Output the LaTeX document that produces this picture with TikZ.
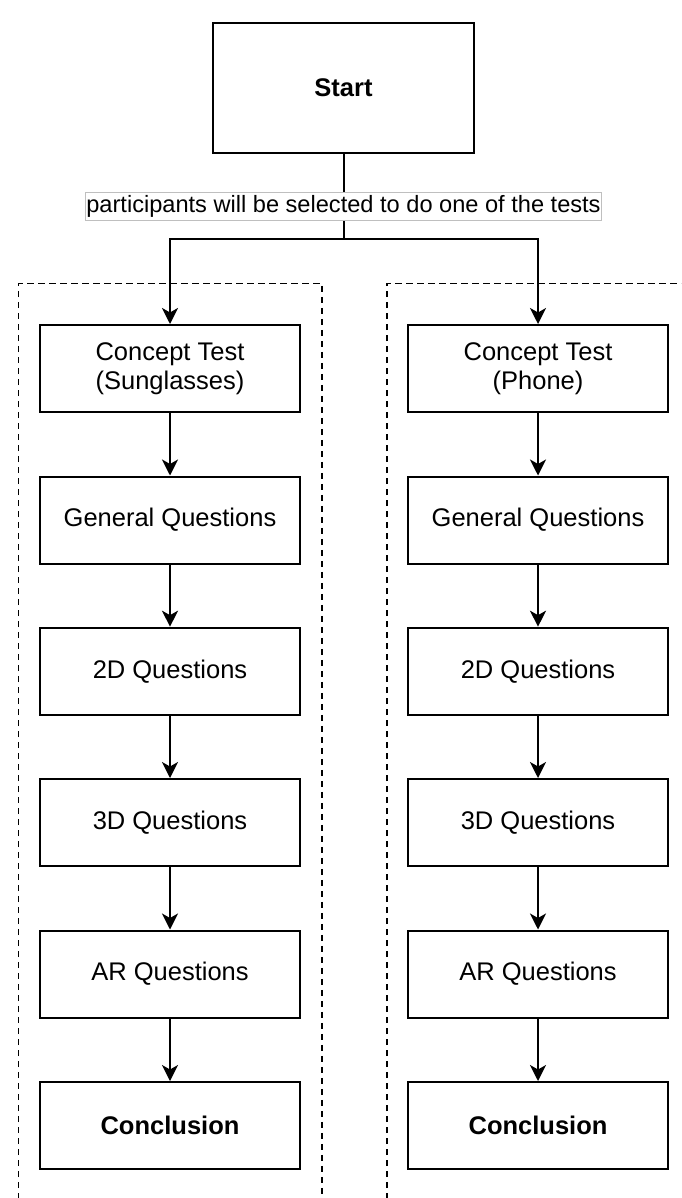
\documentclass[tikz,border=0pt]{standalone}
\usepackage{fontspec}
\setmainfont{Liberation Sans}
\usetikzlibrary{arrows.meta}
\tikzset{
  flowbox/.style={draw=black, line width=2pt, fill=white, rectangle, minimum width=260pt, minimum height=87pt, inner sep=0pt, align=center, font=\fontsize{25.5}{29}\selectfont},
  groupline/.style={draw=black, line width=1.8pt, dash pattern=on 6.5pt off 4.5pt},
  link/.style={draw=black, line width=2pt},
  arrowlink/.style={link, -{Stealth[length=16pt, width=16pt, inset=4.5pt]}},
  edgelabel/.style={draw=black!25, line width=1pt, fill=white, inner xsep=1pt, inner ysep=0pt, minimum height=28pt, font=\fontsize{23.6}{27}\selectfont}
}
\begin{document}
\begin{tikzpicture}[x=1pt,y=-1pt]
\useasboundingbox (0,0) rectangle (681,1198);
\clip (0,0) rectangle (681,1198);
\fill[white] (0,0) rectangle (681,1198);

% dashed group frames (open at the bottom edge)
\draw[groupline] (18.5,1210) -- (18.5,283.5) -- (321.7,283.5) -- (321.7,1210);
\draw[groupline] (386.7,1210) -- (386.7,283.5) -- (700,283.5);

% start
\node[flowbox, minimum width=261pt, minimum height=130pt, font=\bfseries\fontsize{25.5}{29}\selectfont] (start) at (343.5,87.7) {Start};

% edge label
\node[edgelabel] (lbl) at (343.5,206.7) {participants will be selected to do one of the tests};
\coordinate (j) at (343.5,238.7);

% left column
\node[flowbox] (L1) at (170,368.5) {Concept Test\\(Sunglasses)};
\node[flowbox] (L2) at (170,520) {General Questions};
\node[flowbox] (L3) at (170,671.2) {2D Questions};
\node[flowbox] (L4) at (170,822.5) {3D Questions};
\node[flowbox] (L5) at (170,974) {AR Questions};
\node[flowbox, font=\bfseries\fontsize{25.5}{29}\selectfont] (L6) at (170,1125.5) {Conclusion};

% right column
\node[flowbox] (R1) at (538,368.5) {Concept Test\\(Phone)};
\node[flowbox] (R2) at (538,520) {General Questions};
\node[flowbox] (R3) at (538,671.2) {2D Questions};
\node[flowbox] (R4) at (538,822.5) {3D Questions};
\node[flowbox] (R5) at (538,974) {AR Questions};
\node[flowbox, font=\bfseries\fontsize{25.5}{29}\selectfont] (R6) at (538,1125.5) {Conclusion};

% connectors
\draw[link] (start.south) -- (lbl.north);
\draw[link] (lbl.south) -- (j);
\draw[arrowlink] (j) -| (L1.north);
\draw[arrowlink] (j) -| (R1.north);
\foreach \c in {L,R}{
  \draw[arrowlink] (\c1.south) -- (\c2.north);
  \draw[arrowlink] (\c2.south) -- (\c3.north);
  \draw[arrowlink] (\c3.south) -- (\c4.north);
  \draw[arrowlink] (\c4.south) -- (\c5.north);
  \draw[arrowlink] (\c5.south) -- (\c6.north);
}
\end{tikzpicture}
\end{document}
